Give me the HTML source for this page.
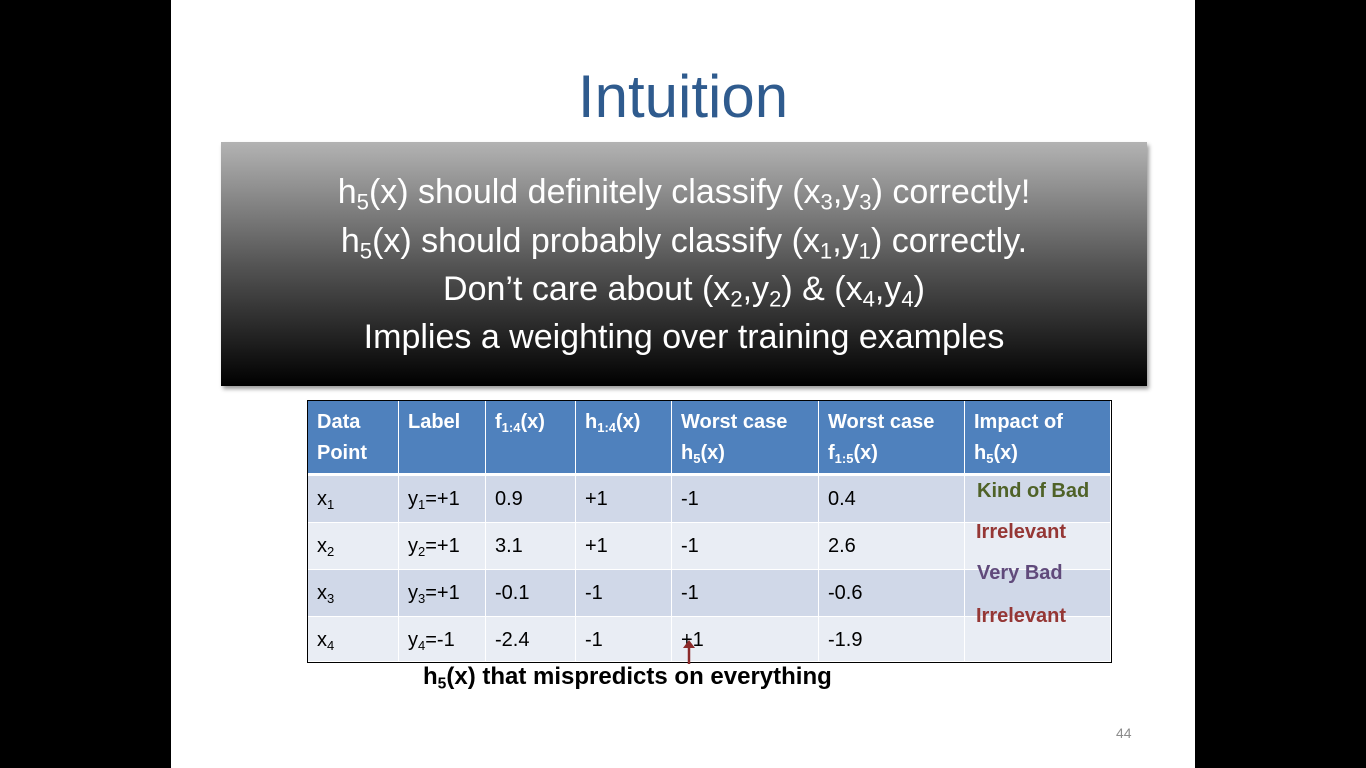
<!DOCTYPE html>
<html><head><meta charset="utf-8"><style>
body{margin:0;width:1366px;height:768px;background:#000;position:relative;overflow:hidden;font-family:"Liberation Sans",sans-serif}
.slide{position:absolute;left:171px;top:0;width:1024px;height:768px;background:#fff}
.a{position:absolute}
.title{left:171px;width:1024px;top:60px;text-align:center;font-size:60px;line-height:74px;color:#2f5b8e}
.box{left:221px;top:142px;width:926px;height:244px;background:linear-gradient(#b3b3b3,#555 50%,#000);box-shadow:2px 3px 4px rgba(0,0,0,.4);color:#fff;font-size:34px;text-align:center}
.box div{position:absolute;left:0;right:0;line-height:40px}
sub{font-size:65%;vertical-align:-0.3em;line-height:0}
.grid{position:absolute;left:307px;top:400px;width:803px;height:261px;border:1px solid #000;display:grid;grid-template-columns:91px 87px 90px 96px 147px 146px 146px;grid-template-rows:75px 47px 47px 47px 45px;background:#fff;gap:0;font-size:20px}
.grid div{box-sizing:border-box;border-right:1px solid #fff;border-bottom:1px solid #fff;padding:0 9px}
.h{background:#4f81bd;color:#fff;font-weight:bold;line-height:31px;padding-top:6px!important;border-bottom:3px solid #fff!important}
.o{background:#d0d8e8;line-height:46px}.e{background:#e9edf4;line-height:46px}
.imp{font-weight:bold;font-size:20px;position:absolute}
</style></head><body>
<div class="slide"></div>
<div class="a title">Intuition</div>
<div class="a box">
<div style="top:30px">h<sub>5</sub>(x) should definitely classify (x<sub>3</sub>,y<sub>3</sub>) correctly!</div>
<div style="top:79px">h<sub>5</sub>(x) should probably classify (x<sub>1</sub>,y<sub>1</sub>) correctly.</div>
<div style="top:127px">Don’t care about (x<sub>2</sub>,y<sub>2</sub>) &amp; (x<sub>4</sub>,y<sub>4</sub>)</div>
<div style="top:175px">Implies a weighting over training examples</div>
</div>
<div class="grid">
<div class="h">Data Point</div><div class="h">Label</div><div class="h">f<sub>1:4</sub>(x)</div><div class="h">h<sub>1:4</sub>(x)</div><div class="h">Worst case h<sub>5</sub>(x)</div><div class="h">Worst case f<sub>1:5</sub>(x)</div><div class="h">Impact of h<sub>5</sub>(x)</div>
<div class="o">x<sub>1</sub></div><div class="o">y<sub>1</sub>=+1</div><div class="o">0.9</div><div class="o">+1</div><div class="o">-1</div><div class="o">0.4</div><div class="o"></div>
<div class="e">x<sub>2</sub></div><div class="e">y<sub>2</sub>=+1</div><div class="e">3.1</div><div class="e">+1</div><div class="e">-1</div><div class="e">2.6</div><div class="e"></div>
<div class="o">x<sub>3</sub></div><div class="o">y<sub>3</sub>=+1</div><div class="o">-0.1</div><div class="o">-1</div><div class="o">-1</div><div class="o">-0.6</div><div class="o"></div>
<div class="e">x<sub>4</sub></div><div class="e">y<sub>4</sub>=-1</div><div class="e">-2.4</div><div class="e">-1</div><div class="e">+1</div><div class="e">-1.9</div><div class="e"></div>
</div>
<div class="imp" style="left:977px;top:480px;color:#4f6228">Kind of Bad</div>
<div class="imp" style="left:976px;top:521px;color:#953735">Irrelevant</div>
<div class="imp" style="left:977px;top:562px;color:#604a7b">Very Bad</div>
<div class="imp" style="left:976px;top:605px;color:#953735">Irrelevant</div>
<svg class="a" style="left:682px;top:640px" width="14" height="26"><line x1="7" y1="6" x2="7" y2="24" stroke="#8b2a2a" stroke-width="2.5"/><polygon points="1,8 7,0 13,8" fill="#8b2a2a"/></svg>
<div class="a" style="left:423px;top:663px;font-weight:bold;font-size:24px">h<sub>5</sub>(x) that mispredicts on everything</div>
<div class="a" style="left:1116px;top:725px;font-size:14px;color:#8c8c8c">44</div>
</body></html>
